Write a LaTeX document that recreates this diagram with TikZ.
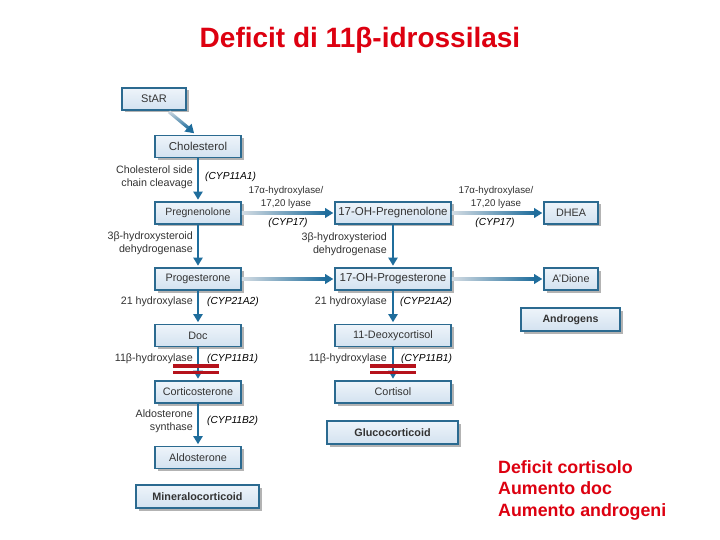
\documentclass[tikz,border=0pt]{standalone}
\usepackage{fontspec}
\setmainfont{Liberation Sans}
\usetikzlibrary{calc,shadows,arrows.meta}
\definecolor{boxborder}{HTML}{2B6A90}
\definecolor{boxtop}{HTML}{EEF4FA}
\definecolor{boxbot}{HTML}{D3E2F0}
\definecolor{arrowblue}{HTML}{1F6D9C}
\definecolor{arrowlight}{HTML}{D4DCE3}
\definecolor{textgray}{HTML}{333333}
\definecolor{titlered}{HTML}{DD0010}
\definecolor{barred}{HTML}{B5121B}
\definecolor{shadowgray}{HTML}{A0A0A0}
\newcommand\gradarrow[2]{%
  \path (#1.east) coordinate (ga-s) (#2.west) coordinate (ga-e);
  \shade[left color=arrowlight, right color=arrowblue]
    ($(ga-s)+(0,-1.5)$) rectangle ($(ga-e)+(-8,1.5)$);
  \fill[arrowblue] ($(ga-e)+(-9,-5)$) -- ($(ga-e)+(-1,0)$) -- ($(ga-e)+(-9,5)$) -- cycle;}
\newcommand\fsz[1]{\fontsize{#1}{#1}\selectfont}
\begin{document}
\begin{tikzpicture}[x=1pt,y=-1pt,
  box/.style={draw=boxborder, line width=1.6pt, top color=boxtop, bottom color=boxbot,
    minimum width=86, minimum height=22, inner sep=0pt, text=textgray,
    font=\fsz{10.8},
    drop shadow={shadow xshift=2.5pt, shadow yshift=-2.5pt, fill=shadowgray, opacity=0.8}},
  widebox/.style={box, minimum width=116},
  smallbox/.style={box, minimum width=54},
  boldbox/.style={box, line width=2.2pt, minimum height=23, font=\bfseries\fsz{10.8}},
  varrow/.style={draw=arrowblue, line width=2.4pt, -{Triangle[length=8pt,width=9pt]}, shorten >=1.5pt},
  lbl/.style={text=textgray, font=\fontsize{10.7}{13}\selectfont, inner sep=0pt},
  lblsmall/.style={lbl, font=\fontsize{9.8}{13}\selectfont},
  cyp/.style={text=black, font=\itshape\fsz{10.2}, inner sep=0pt},
  redtxt/.style={text=titlered, font=\bfseries\fontsize{17.8}{21.5}\selectfont, inner sep=0pt}
]
\useasboundingbox (0,0) rectangle (720,540);
\fill[white] (0,0) rectangle (720,540);

\node[redtxt, font=\bfseries\fsz{28}] (title) at (360,40) {Deficit di 11β-idrossilasi};

% boxes
\node[box, minimum width=64, font=\fsz{11}] (star) at (154,99) {StAR};
\node[box, font=\fsz{11.5}] (chol) at (198,146.5) {Cholesterol};
\node[box, font=\fsz{10.5}] (preg) at (198,213) {Pregnenolone};
\node[widebox, font=\fsz{11.5}] (ohpreg) at (393,213) {17-OH-Pregnenolone};
\node[smallbox] (dhea) at (571,213) {DHEA};
\node[box] (prog) at (198,279) {Progesterone};
\node[widebox, font=\fsz{11.5}] (ohprog) at (393,279) {17-OH-Progesterone};
\node[smallbox] (adione) at (571,279) {A'Dione};
\node[boldbox, minimum width=99, font=\bfseries\fsz{10.6}] (andro) at (570.5,319.5) {Androgens};
\node[box] (doc) at (198,335.5) {Doc};
\node[widebox] (deoxy) at (393,335.5) {11-Deoxycortisol};
\node[box] (cortico) at (198,392) {Corticosterone};
\node[widebox] (cortisol) at (393,392) {Cortisol};
\node[boldbox, minimum width=131] (gluco) at (392.5,432.5) {Glucocorticoid};
\node[box] (aldo) at (198,457.5) {Aldosterone};
\node[boldbox, minimum width=123] (mineral) at (197.5,496.5) {Mineralocorticoid};

% diagonal arrow StAR -> Cholesterol
\coordinate (ds) at ($(star.south)+(15,1)$);
\coordinate (de) at ($(chol.north)+(-4,-1.5)$);
\coordinate (dm) at ($(de)+(-6,-5.6)$);
\shade[top color=arrowlight, bottom color=arrowblue]
  ($(ds)+(1.1,-1.2)$) -- ($(dm)+(1.1,-1.2)$) -- ($(dm)+(-1.1,1.2)$) -- ($(ds)+(-1.1,1.2)$) -- cycle;
\fill[arrowblue] ($(dm)+(3.6,-3.9)$) -- (de) -- ($(dm)+(-3.6,3.9)$) -- cycle;

% vertical arrows
\draw[varrow] (chol) -- (preg);
\draw[varrow] (preg) -- (prog);
\draw[varrow] (prog) -- (doc);
\draw[varrow] (doc) -- (cortico);
\draw[varrow] (cortico) -- (aldo);
\draw[varrow] (ohpreg) -- (ohprog);
\draw[varrow] (ohprog) -- (deoxy);
\draw[varrow] (deoxy) -- (cortisol);

% horizontal gradient arrows
\gradarrow{preg}{ohpreg}
\gradarrow{ohpreg}{dhea}
\gradarrow{prog}{ohprog}
\gradarrow{ohprog}{adione}

% labels
\node[lbl, anchor=east, align=right] (l1) at (193,177.5) {Cholesterol side\\chain cleavage};
\node[cyp, anchor=west] (c1) at (205,177) {(CYP11A1)};
\node[lblsmall, align=center] (l2) at (286,197) {17α-hydroxylase/\\17,20 lyase};
\node[cyp] (c2) at (288,223) {(CYP17)};
\node[lblsmall, align=center] (l3) at (496,197) {17α-hydroxylase/\\17,20 lyase};
\node[cyp] (c3) at (495,223) {(CYP17)};
\node[lbl, anchor=east, align=right] (l4) at (193,243) {3β-hydroxysteroid\\dehydrogenase};
\node[lbl, anchor=east, align=right] (l5) at (387,244) {3β-hydroxysteriod\\dehydrogenase};
\node[lbl, anchor=east] (l6) at (193,302) {21 hydroxylase};
\node[cyp, anchor=west] (c6) at (207,302) {(CYP21A2)};
\node[lbl, anchor=east] (l7) at (387,302) {21 hydroxylase};
\node[cyp, anchor=west] (c7) at (400,302) {(CYP21A2)};
\node[lbl, anchor=east] (l8) at (193,359) {11β-hydroxylase};
\node[cyp, anchor=west] (c8) at (207,359) {(CYP11B1)};
\node[lbl, anchor=east] (l9) at (387,359) {11β-hydroxylase};
\node[cyp, anchor=west] (c9) at (401,359) {(CYP11B1)};
\node[lbl, anchor=east, align=right] (l10) at (193,421) {Aldosterone\\synthase};
\node[cyp, anchor=west] (c10) at (207,421) {(CYP11B2)};

% block bars
\fill[barred] (173,364) rectangle (219,367.5);
\fill[barred] (173,370.5) rectangle (219,374);
\fill[barred] (370,364) rectangle (416,367.5);
\fill[barred] (370,370.5) rectangle (416,374);

% note
\node[redtxt, anchor=north west, align=left] (note) at (498,460) {Deficit cortisolo\\Aumento doc\\Aumento androgeni};
\end{tikzpicture}
\end{document}
